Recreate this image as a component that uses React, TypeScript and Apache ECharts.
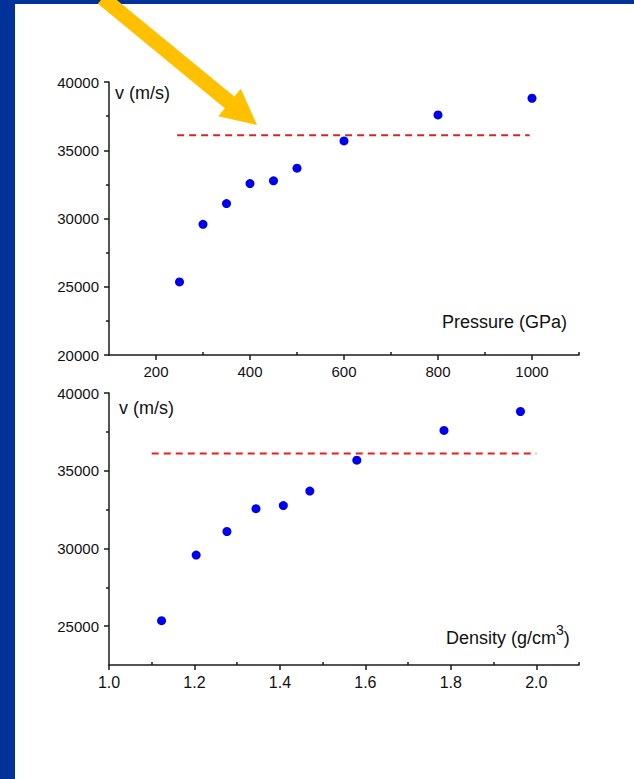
import React, { useEffect, useRef } from "react";
import * as echarts from "echarts";

// ---- data ----
const pressure = [250, 300, 350, 400, 450, 500, 600, 800, 1000];
const density = [1.123, 1.204, 1.276, 1.344, 1.408, 1.47, 1.58, 1.784, 1.963];
const velocity = [25350, 29570, 31090, 32560, 32760, 33690, 35680, 37590, 38810];
const limitVelocity = 36100;
const pressureLimitRange = [245, 995];
const densityLimitRange = [1.1, 2.0];

const pressureTicks = [200, 400, 600, 800, 1000];
const pressureMinorTicks = [300, 500, 700, 900, 1100];
const densityTicks = [1.0, 1.2, 1.4, 1.6, 1.8, 2.0];
const densityMinorTicks = [1.1, 1.3, 1.5, 1.7, 1.9, 2.1];
const topVelTicks = [20000, 25000, 30000, 35000, 40000];
const topVelMinorTicks = [22500, 27500, 32500, 37500];
const botVelTicks = [25000, 30000, 35000, 40000];
const botVelMinorTicks = [27500, 32500, 37500];

const FONT = "'Liberation Sans', Arial, sans-serif";
const AX = "#1a1a1a";

function majorX(gridIndex: number, min: number, max: number, ticks: number[], fmt: (v: number) => string, fs: number) {
  return {
    type: "value", gridIndex, min, max, position: "bottom",
    axisLine: { show: true, onZero: false, lineStyle: { color: AX, width: 1.5 } },
    axisTick: { show: true, length: 5, customValues: ticks, lineStyle: { color: AX, width: 1.5 } },
    axisLabel: { customValues: ticks, formatter: fmt, margin: 9, color: "#111", fontSize: fs, fontFamily: FONT },
    splitLine: { show: false },
  };
}
function minorX(gridIndex: number, min: number, max: number, ticks: number[]) {
  return {
    type: "value", gridIndex, min, max, position: "bottom",
    axisLine: { show: false, onZero: false },
    axisTick: { show: true, inside: true, length: 3, customValues: ticks, lineStyle: { color: AX, width: 1.5 } },
    axisLabel: { show: false },
    splitLine: { show: false },
  };
}
function majorY(gridIndex: number, min: number, max: number, ticks: number[], fs: number) {
  return {
    type: "value", gridIndex, min, max, position: "left",
    axisLine: { show: true, onZero: false, lineStyle: { color: AX, width: 1.5 } },
    axisTick: { show: true, length: 5, customValues: ticks, lineStyle: { color: AX, width: 1.5 } },
    axisLabel: { customValues: ticks, formatter: (v: number) => String(v), margin: 10, color: "#111", fontSize: fs, fontFamily: FONT },
    splitLine: { show: false },
  };
}
function minorY(gridIndex: number, min: number, max: number, ticks: number[]) {
  return {
    type: "value", gridIndex, min, max, position: "left",
    axisLine: { show: false, onZero: false },
    axisTick: { show: true, length: 3, customValues: ticks, lineStyle: { color: AX, width: 1.5 } },
    axisLabel: { show: false },
    splitLine: { show: false },
  };
}

// arrow geometry (decoration)
function arrowPoints() {
  const T = [257, 125];
  const u = [0.772, 0.635];
  const n = [-0.635, 0.772];
  const S = [T[0] - u[0] * 200, T[1] - u[1] * 200];
  const B = [T[0] - u[0] * 35.6, T[1] - u[1] * 35.6];
  const p = (P: number[], k: number) => [P[0] + n[0] * k, P[1] + n[1] * k];
  return [p(S, 7.5), p(B, 7.5), p(B, 17.8), T, p(B, -17.8), p(B, -7.5), p(S, -7.5)];
}

export default function App() {
  const ref = useRef<HTMLDivElement>(null);
  useEffect(() => {
    if (!ref.current) return;
    const chart = echarts.init(ref.current, null, { renderer: "svg" });
    const option: any = {
      animation: false,
      backgroundColor: "#003399",
      grid: [
        { left: 109, top: 82, width: 470, height: 273 },
        { left: 109, top: 393, width: 470, height: 272 },
      ],
      xAxis: [
        majorX(0, 100, 1100, pressureTicks, (v: number) => String(v), 15),
        minorX(0, 100, 1100, pressureMinorTicks),
        majorX(1, 1.0, 2.1, densityTicks, (v: number) => v.toFixed(1), 16),
        minorX(1, 1.0, 2.1, densityMinorTicks),
      ],
      yAxis: [
        majorY(0, 20000, 40000, topVelTicks, 15),
        minorY(0, 20000, 40000, topVelMinorTicks),
        majorY(1, 22500, 40000, botVelTicks, 15),
        minorY(1, 22500, 40000, botVelMinorTicks),
      ],
      series: [
        {
          type: "scatter", xAxisIndex: 0, yAxisIndex: 0, symbolSize: 9,
          itemStyle: { color: "#0000ee", opacity: 1 },
          data: pressure.map((p, i) => [p, velocity[i]]), z: 5,
        },
        {
          type: "line", xAxisIndex: 0, yAxisIndex: 0, showSymbol: false, symbol: "none",
          lineStyle: { color: "#cc2a2a", width: 2, type: [7, 5] },
          data: pressureLimitRange.map((p) => [p, limitVelocity]), z: 4,
        },
        {
          type: "scatter", xAxisIndex: 2, yAxisIndex: 2, symbolSize: 9,
          itemStyle: { color: "#0000ee", opacity: 1 },
          data: density.map((d, i) => [d, velocity[i]]), z: 5,
        },
        {
          type: "line", xAxisIndex: 2, yAxisIndex: 2, showSymbol: false, symbol: "none",
          lineStyle: { color: "#ee1c1c", width: 2, type: [7, 5] },
          data: densityLimitRange.map((d) => [d, limitVelocity]), z: 4,
        },
      ],
      graphic: [
        { type: "rect", z: -100, silent: true, shape: { x: 15, y: 4, width: 619, height: 775 }, style: { fill: "#ffffff" } },
        { type: "text", x: 115, y: 93, z: 10, style: { text: "v (m/s)", font: `18px ${FONT}`, fill: "#111", verticalAlign: "middle" } },
        { type: "text", x: 442, y: 322, z: 10, style: { text: "Pressure (GPa)", font: `18px ${FONT}`, fill: "#111", verticalAlign: "middle" } },
        { type: "text", x: 119, y: 408, z: 10, style: { text: "v (m/s)", font: `18px ${FONT}`, fill: "#111", verticalAlign: "middle" } },
        {
          type: "text", x: 446, y: 635, z: 10,
          style: {
            text: "{a|Density (g/cm}{s|3}{a|)}",
            verticalAlign: "middle",
            rich: {
              a: { fontSize: 18, fontFamily: FONT, fill: "#111", lineHeight: 24, verticalAlign: "bottom" },
              s: { fontSize: 14, fontFamily: FONT, fill: "#111", lineHeight: 24, verticalAlign: "top", padding: [0, 0, 6, 0] },
            },
          },
        },
        { type: "polygon", z: 100, silent: true, shape: { points: arrowPoints() }, style: { fill: "#ffc000" } },
      ],
    };
    chart.setOption(option);
    return () => chart.dispose();
  }, []);
  return <div ref={ref} style={{ position: "absolute", left: 0, top: 0, width: 634, height: 779 }} />;
}
